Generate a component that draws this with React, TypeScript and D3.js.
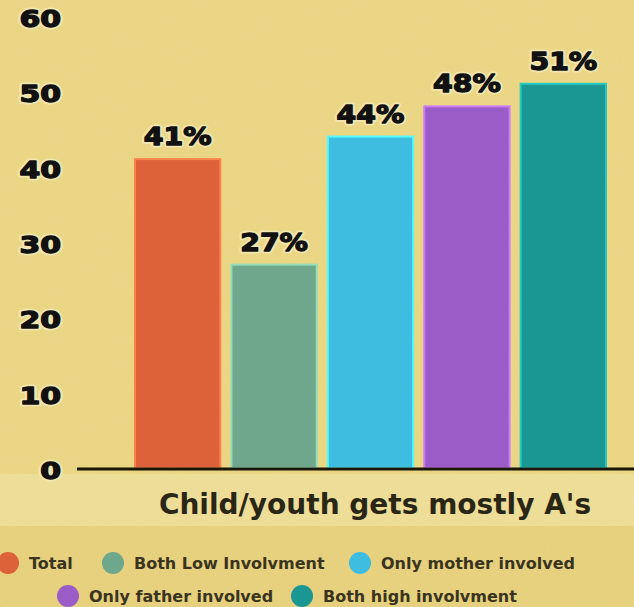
import React from 'react';
import * as d3 from 'd3';

const categories = ['Total', 'Both Low Involvment', 'Only mother involved', 'Only father involved', 'Both high involvment'];
const values = [41, 27, 44, 48, 51];
const colors = ['#dd6139', '#6fa78c', '#3fbde0', '#9a5cc6', '#1b9793'];
const yTicks = [0, 10, 20, 30, 40, 50, 60];
const axisTitle = "Child/youth gets mostly A's";

const W = 634;
const H = 607;

// heavy, widened label with a pale halo behind it
function HeavyText(props: { x: number; y: number; size: number; anchor: string; widen: number; children: React.ReactNode }) {
  const { x, y, size, anchor, widen, children } = props;
  return (
    <g transform={`translate(${x},${y}) scale(${widen},1)`} fontFamily="DejaVu Sans" fontWeight="bold"
      fontSize={size} textAnchor={anchor}>
      <text fill="#f3eabb" stroke="#f3eabb" strokeWidth={5} strokeLinejoin="round" opacity={0.8}>{children}</text>
      <text fill="#111" stroke="#111" strokeWidth={1.3} strokeLinejoin="round">{children}</text>
    </g>
  );
}

export default function App() {
  const y = d3.scaleLinear().domain([0, 60]).range([468, 16]);
  const x = d3.scaleBand<string>().domain(categories).range([135, 606]).paddingInner(0.115).paddingOuter(0);

  // legend layout: two rows
  const legendRows = [
    { y: 563, items: [0, 1, 2], xs: [8, 113, 360] },
    { y: 596, items: [3, 4], xs: [68, 302] },
  ];

  return (
    <svg width={W} height={H} style={{ position: 'absolute', left: 0, top: 0 }}>
      <defs>
        <filter id="grain" x="0" y="0" width="100%" height="100%">
          <feTurbulence type="fractalNoise" baseFrequency="0.9" numOctaves="2" seed="3" />
          <feColorMatrix type="matrix" values="0 0 0 0 1  0 0 0 0 1  0 0 0 0 0.8  0 0 0 0.12 0" />
        </filter>
      </defs>
      <rect width={W} height={H} fill="#e8d37e" />
      <rect y={474} width={W} height={52} fill="#ecdb92" />
      <rect y={526} width={W} height={H - 526} fill="#e5ce78" />
      <rect width={W} height={H} filter="url(#grain)" />

      {yTicks.map(t => (
        <HeavyText key={t} x={61} y={y(t) + 11} size={23} anchor="end" widen={1.3}>{t}</HeavyText>
      ))}

      {categories.map((c, i) => (
        <g key={c}>
          <rect x={x(c)} y={y(values[i])} width={x.bandwidth()} height={y(0) - y(values[i])}
            fill={colors[i]} stroke={d3.color(colors[i])!.brighter(0.8).formatHex()} strokeWidth={2} />
          <HeavyText x={x(c)! + x.bandwidth() / 2} y={y(values[i]) - 14} size={24} anchor="middle" widen={1.18}>
            {values[i]}%
          </HeavyText>
        </g>
      ))}

      <line x1={77} x2={W} y1={y(0) + 1} y2={y(0) + 1} stroke="#1a1608" strokeWidth={3} />

      <text x={375} y={514} textAnchor="middle" fontFamily="DejaVu Sans" fontWeight="600" fontSize={28}
        fill="#2a2616">{axisTitle}</text>

      {legendRows.map((row, ri) => (
        <g key={ri}>
          {row.items.map((idx, k) => (
            <g key={idx}>
              <circle cx={row.xs[k]} cy={row.y} r={11} fill={colors[idx]} />
              <text x={row.xs[k] + 21} y={row.y + 6} fontFamily="DejaVu Sans" fontWeight="bold"
                fontSize={16} fill="#3a341e">{categories[idx]}</text>
            </g>
          ))}
        </g>
      ))}
    </svg>
  );
}
